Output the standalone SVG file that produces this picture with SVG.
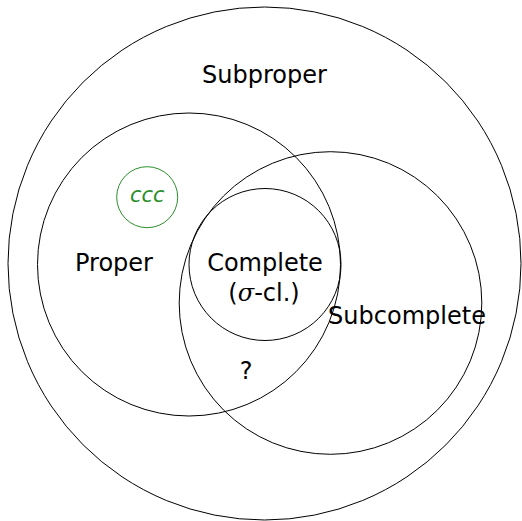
<svg xmlns="http://www.w3.org/2000/svg" width="522" height="521" viewBox="0 0 522 521">
  <style>
    .set { fill: none; stroke: #000; stroke-width: 1; }
    .sub { fill: none; stroke: #2a8f2a; stroke-width: 1; }
    .lbl { font-family: "DejaVu Sans", "Liberation Sans", sans-serif; font-size: 24px; fill: #000; text-anchor: middle; }
    .glbl { font-family: "DejaVu Sans", "Liberation Sans", sans-serif; font-size: 21px; font-style: italic; fill: #2a8f2a; text-anchor: middle; }
    .math { font-family: "DejaVu Serif", "Liberation Serif", serif; font-style: italic; }
  </style>
  <rect width="522" height="521" fill="#fff"/>

  <g id="subproper">
    <circle class="set" cx="264.5" cy="263.5" r="256.5"/>
    <text class="lbl" x="264.5" y="83">Subproper</text>
  </g>

  <g id="proper">
    <circle class="set" cx="189" cy="264.5" r="151.5"/>
    <text class="lbl" x="114" y="271">Proper</text>
  </g>

  <g id="subcomplete">
    <circle class="set" cx="330.5" cy="303" r="151.3"/>
    <text class="lbl" x="407" y="324">Subcomplete</text>
  </g>

  <g id="complete">
    <circle class="set" cx="265" cy="264.5" r="76"/>
    <text class="lbl" x="265" y="271">Complete</text>
    <text class="lbl" x="264" y="301">(<tspan class="math">σ</tspan>-cl.)</text>
  </g>

  <g id="ccc">
    <circle class="sub" cx="147.2" cy="197.2" r="30.5"/>
    <text class="glbl" x="147.2" y="202">ccc</text>
  </g>

  <g id="unknown">
    <text class="lbl" x="246" y="379">?</text>
  </g>
</svg>
